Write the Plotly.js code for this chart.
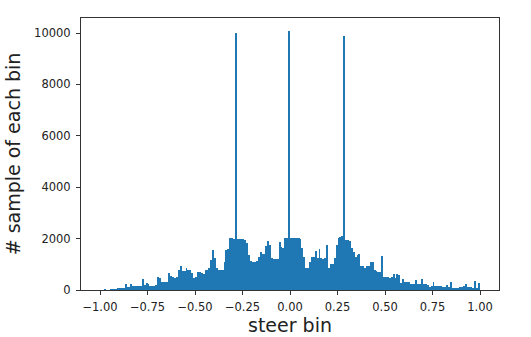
<!DOCTYPE html>
<html>
<head>
<meta charset="utf-8">
<script src="https://cdn.plot.ly/plotly-3.0.1.min.js"></script>
<style>
  html, body { margin: 0; padding: 0; background: #fff; }
  #plot { width: 531px; height: 337px; }
</style>
</head>
<body>
<div id="plot"></div>
<script>
// histogram of steering values, 200 bins from -1 to 1
const binStart = -1.0;
const binWidth = 0.01;

// counts per bin (left to right)
const counts = [
  0, 0, 40, 10, 10, 40, 40, 40, 50, 90,
  90, 70, 70, 230, 130, 130, 220, 150, 140, 140,
  140, 150, 420, 180, 290, 250, 170, 170, 170, 180,
  490, 480, 300, 300, 310, 330, 675, 560, 520, 480,
  490, 780, 950, 750, 730, 870, 780, 760, 650, 480,
  490, 710, 700, 650, 640, 780, 790, 870, 1170, 1560,
  1230, 870, 780, 790, 780, 1080, 1560, 1580, 2010, 2040,
  2000, 10000, 1990, 1980, 1990, 1970, 1950, 1820, 1360, 1130,
  1100, 1100, 1110, 1300, 1490, 1390, 1400, 1700, 1900, 1750,
  1230, 1200, 1190, 1200, 1850, 1690, 1630, 2010, 2040, 10080,
  2030, 2040, 2020, 2030, 2040, 1980, 1620, 1300, 840, 860,
  1100, 1300, 1280, 1520, 1260, 1600, 1230, 1220, 1230, 1760,
  840, 1000, 1010, 1230, 1750, 2010, 2050, 2090, 9900, 1950,
  1960, 1910, 1620, 1490, 1300, 1370, 1400, 930, 920, 840,
  930, 920, 1100, 1080, 780, 750, 710, 700, 1320, 490,
  500, 490, 480, 500, 620, 450, 620, 600, 290, 420,
  320, 330, 310, 230, 230, 240, 390, 230, 220, 420,
  230, 220, 210, 130, 140, 320, 170, 170, 160, 170,
  130, 130, 190, 120, 300, 90, 90, 90, 90, 130,
  130, 170, 220, 100, 100, 100, 65, 350, 90, 260
];

const xTicks = [-1.0, -0.75, -0.5, -0.25, 0.0, 0.25, 0.5, 0.75, 1.0];
const yTicks = [0, 2000, 4000, 6000, 8000, 10000];

const binCenters = counts.map((_, i) => binStart + binWidth * (i + 0.5));

const trace = {
  type: "bar",
  x: binCenters,
  y: counts,
  width: binWidth,
  marker: { color: "#1f77b4", line: { width: 0 } },
  hoverinfo: "skip",
};

const axisStyle = {
  showline: true,
  mirror: true,
  linecolor: "#333",
  linewidth: 1,
  showgrid: false,
  zeroline: false,
  ticks: "outside",
  ticklen: 4,
  tickwidth: 1,
  tickcolor: "#333",
  tickfont: { family: "DejaVu Sans", size: 11.5, color: "#222" },
};

const layout = {
  width: 531,
  height: 337,
  margin: { l: 81, r: 32, t: 18, b: 47 },
  paper_bgcolor: "#fff",
  plot_bgcolor: "#fff",
  bargap: 0,
  showlegend: false,
  xaxis: Object.assign({}, axisStyle, {
    range: [-1.1, 1.1],
    tickvals: xTicks,
    tickformat: ".2f",
    ticklabelstandoff: 2,
    title: { text: "steer bin", font: { family: "DejaVu Sans", size: 19, color: "#222" }, standoff: 4 },
  }),
  yaxis: Object.assign({}, axisStyle, {
    range: [0, 10584],
    tickvals: yTicks,
    tickformat: "d",
    ticklabelstandoff: 3,
    title: { text: "# sample of each bin", font: { family: "DejaVu Sans", size: 19, color: "#222" }, standoff: 8 },
  }),
};

Plotly.newPlot("plot", [trace], layout, { staticPlot: true, displayModeBar: false });
</script>
</body>
</html>
